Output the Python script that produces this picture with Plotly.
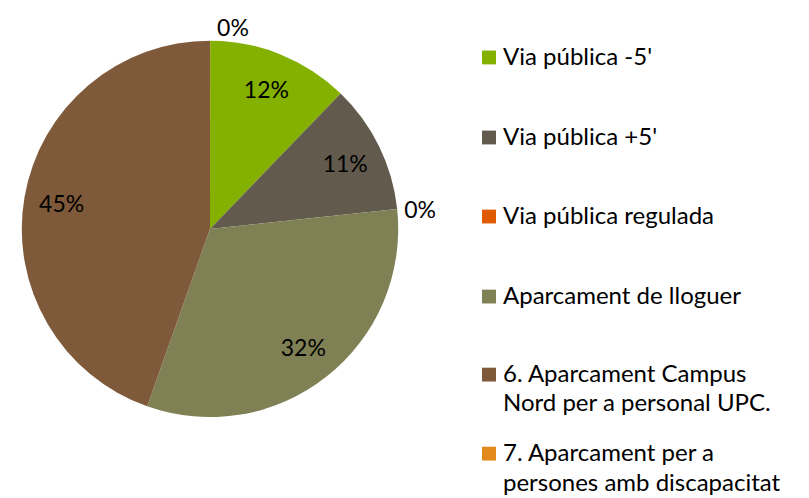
import plotly.graph_objects as go

# ---- data ----
labels = ["Via pública -5'", "Via pública +5'", "Via pública regulada",
          "Aparcament de lloguer", "6. Aparcament Campus Nord per a personal UPC.",
          "7. Aparcament per a persones amb discapacitat"]
legend_lines = [["Via pública -5'"], ["Via pública +5'"], ["Via pública regulada"],
                ["Aparcament de lloguer"], ["6. Aparcament Campus", "Nord per a personal UPC."],
                ["7. Aparcament per a", "persones amb discapacitat"]]
values = [12.2, 11.1, 0.01, 32.1, 44.6, 0.01]
colors = ["#84B000", "#635A4E", "#E05A00", "#7F8054", "#7F5A3A", "#E28B1C"]
text_pos = ["inside", "inside", "outside", "inside", "inside", "outside"]

W, H = 809, 498
OFF = 8  # page body margin
FONT = "Lato"
FS = 23
LFS = 24

def px_x(x):
    return (x - OFF) / W

def px_y(y):
    return 1 - (y - OFF) / H

dom = dict(x=[px_x(19), px_x(401)], y=[px_y(416), px_y(35)])
ROT = 0.05

fig = go.Figure()
# filled pie
fig.add_trace(go.Pie(
    labels=labels, values=values, sort=False, direction="clockwise", rotation=ROT,
    marker=dict(colors=colors, line=dict(width=0)),
    textinfo="none", domain=dom, showlegend=False, hoverinfo="label+percent",
))
# transparent ring carrying the percentage labels (placed at ~0.8 r like the original)
fig.add_trace(go.Pie(
    labels=labels, values=values, sort=False, direction="clockwise", rotation=ROT,
    hole=0.6,
    marker=dict(colors=["rgba(0,0,0,0)"] * len(values), line=dict(width=0)),
    texttemplate="%{percent:.0%}", textposition=text_pos,
    insidetextorientation="horizontal",
    textfont=dict(family=FONT, size=FS, color="#000000"),
    domain=dom, showlegend=False, hoverinfo="skip",
))

# manual legend (baseline of first line per item)
item_baselines = [59, 140, 220, 301, 380, 460]
LINE_GAP = 30
shapes, annotations = [], []
for lines, col, bl in zip(legend_lines, colors, item_baselines):
    sq_c = bl - 7
    shapes.append(dict(type="rect", xref="paper", yref="paper",
                       x0=px_x(482), x1=px_x(496), y0=px_y(sq_c + 7), y1=px_y(sq_c - 7),
                       fillcolor=col, line=dict(width=0)))
    for i, ln in enumerate(lines):
        b = bl + i * LINE_GAP
        mid = b - 0.387 * LFS
        annotations.append(dict(xref="paper", yref="paper", x=px_x(502), y=px_y(mid),
                                xanchor="left", yanchor="middle", align="left",
                                text=ln, showarrow=False, borderpad=0,
                                font=dict(family=FONT, size=LFS, color="#000000")))

fig.update_layout(
    width=W, height=H, margin=dict(l=0, r=0, t=0, b=0),
    paper_bgcolor="white", plot_bgcolor="white",
    shapes=shapes, annotations=annotations,
    font=dict(family=FONT),
)
fig.write_html("out.html")
